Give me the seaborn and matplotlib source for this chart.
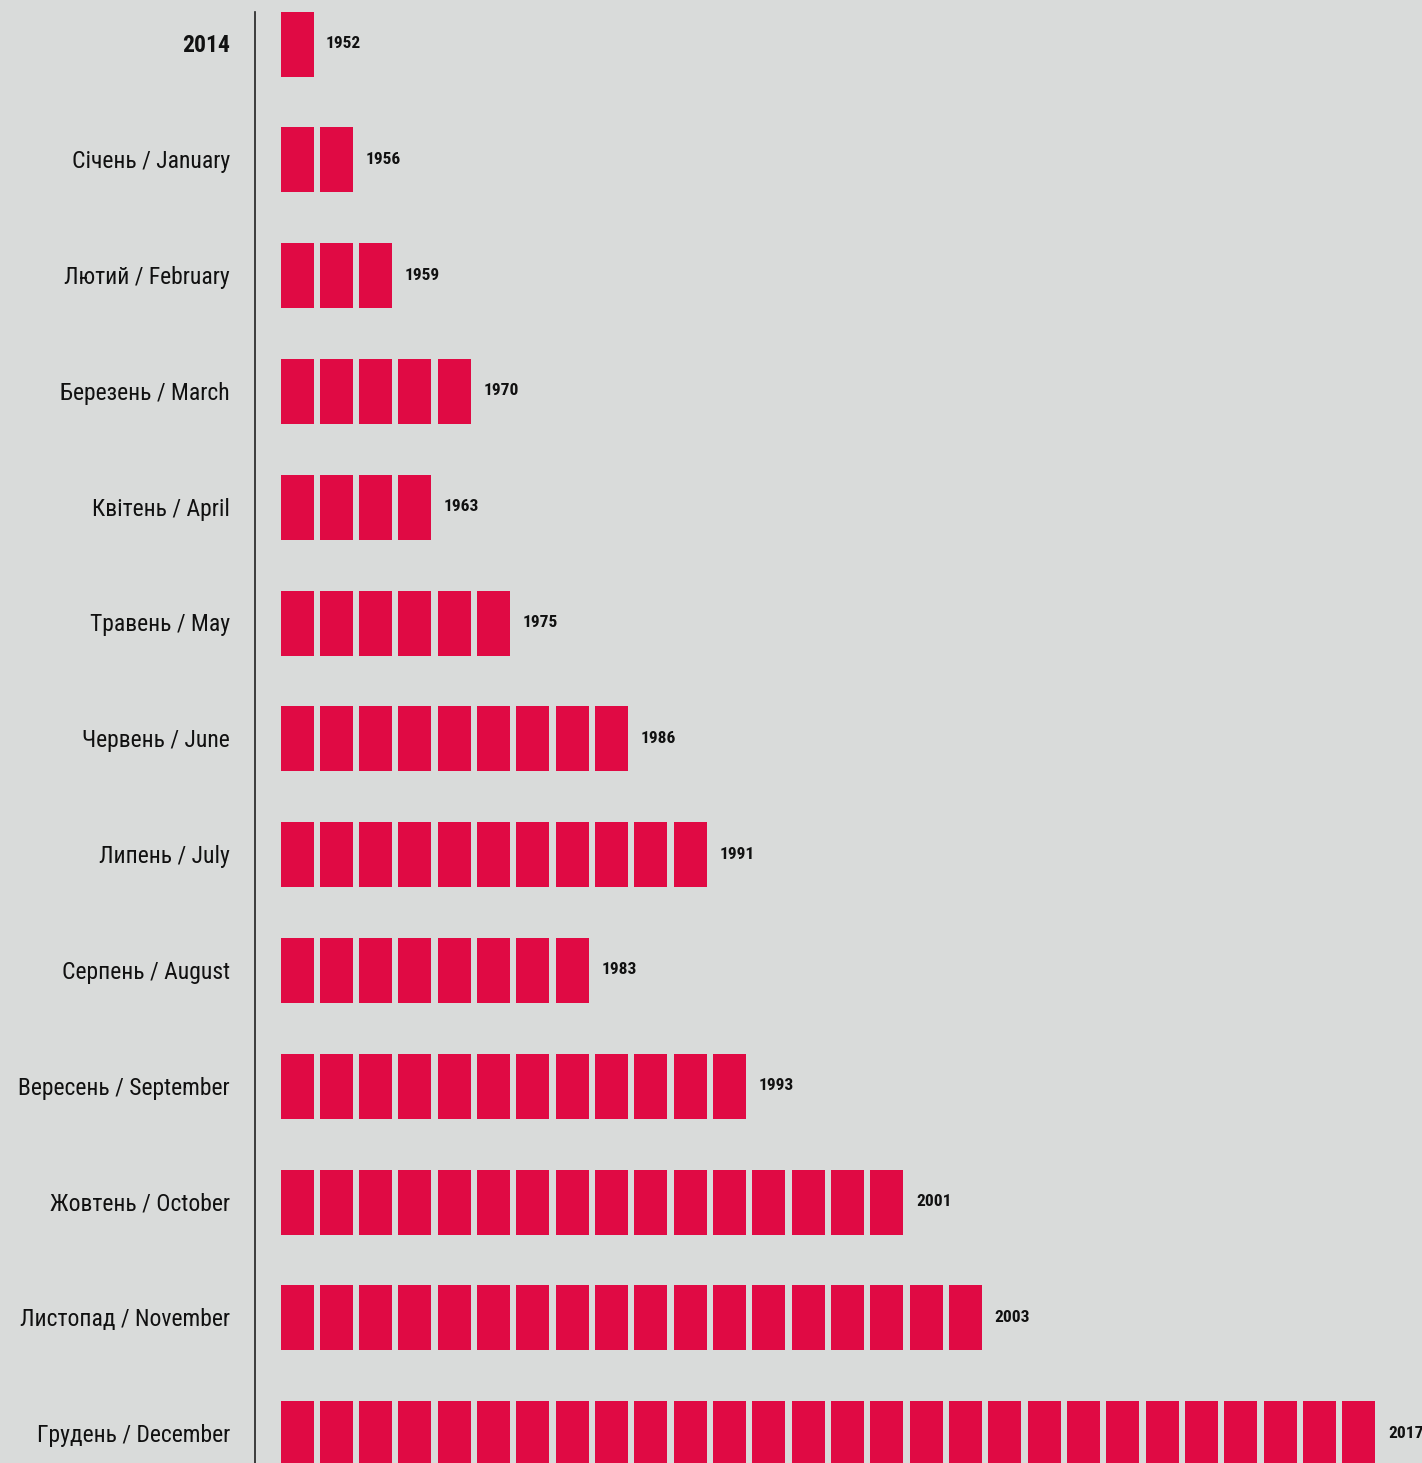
import matplotlib
matplotlib.use("Agg")
import matplotlib.pyplot as plt
import pandas as pd
import seaborn as sns
from matplotlib.path import Path

# rows of the unit chart, top to bottom
labels = [
    "2014",
    "Січень / January",
    "Лютий / February",
    "Березень / March",
    "Квітень / April",
    "Травень / May",
    "Червень / June",
    "Липень / July",
    "Серпень / August",
    "Вересень / September",
    "Жовтень / October",
    "Листопад / November",
    "Грудень / December",
]
counts = [1, 2, 3, 5, 4, 6, 9, 11, 8, 12, 16, 18, 28]
years = [1952, 1956, 1959, 1970, 1963, 1975, 1986, 1991, 1983, 1993, 2001, 2003, 2017]

BG = "#d9dbda"
RED = "#e00a44"

sns.set_theme(style="white", rc={"figure.facecolor": BG, "axes.facecolor": BG})
plt.rcParams["font.family"] = ["Roboto Condensed", "PT Sans Narrow", "DejaVu Sans"]

# one row per block
blocks = pd.DataFrame(
    [(i, k) for i, n in enumerate(counts) for k in range(n)],
    columns=["row", "unit"],
)

W, H = 1422, 1463
fig = plt.figure(figsize=(W / 100, H / 100), dpi=100)
ax = fig.add_axes([255 / W, 0, 1 - 255 / W, 1 - 12 / H])

# tall rectangle marker (33 x 65 px)
hw = 0.5 * 33 / 65
rect = Path([(-hw, -0.5), (hw, -0.5), (hw, 0.5), (-hw, 0.5), (-hw, -0.5)],
            [Path.MOVETO, Path.LINETO, Path.LINETO, Path.LINETO, Path.CLOSEPOLY])
size_pt = 65 * 0.72

sns.scatterplot(
    data=blocks, x="unit", y="row",
    marker=rect, s=size_pt ** 2, color=RED, linewidth=0, ax=ax, legend=False,
)

step_x = 39.33
step_y = 115.8
ax.set_xlim((255 - 296.5) / step_x, (W - 296.5) / step_x)
ax.set_ylim((H - 43.5) / step_y, -(43.5 - 12) / step_y)

for i, (n, yr) in enumerate(zip(counts, years)):
    ax.text(n - 0.25, i, str(yr), ha="left", va="center",
            fontsize=12.5, fontweight="bold", color="#111111")

ax.set_yticks(range(len(labels)))
ax.set_yticklabels(labels, fontsize=17, color="#111111")
ax.get_yticklabels()[0].set_fontweight("bold")
ax.tick_params(axis="y", length=0, pad=18)
ax.set_xticks([])
ax.set_xlabel("")
ax.set_ylabel("")

for side in ["top", "right", "bottom"]:
    ax.spines[side].set_visible(False)
ax.spines["left"].set_color("#222222")
ax.spines["left"].set_linewidth(1.2)

fig.savefig("out.png", dpi=100, facecolor=BG)
